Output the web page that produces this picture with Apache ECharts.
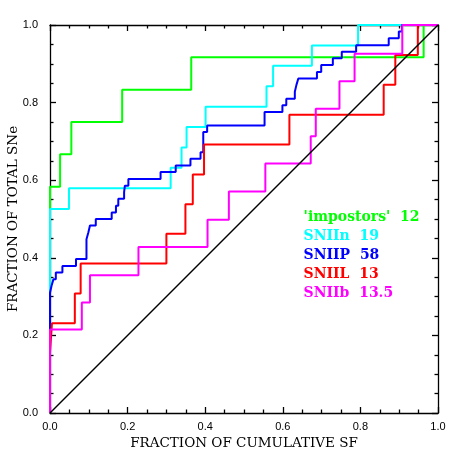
<!DOCTYPE html>
<html>
<head>
<meta charset="utf-8">
<script src="https://cdn.jsdelivr.net/npm/echarts@6/dist/echarts.min.js"></script>
<style>
  html, body { margin: 0; padding: 0; background: #fff; }
  #main { width: 463px; height: 463px; }
</style>
</head>
<body>
<div id="main"></div>
<script>
// x = fraction of cumulative SF where the step happens, y = level after the step
const impostorsX = [0, 0, 0.026, 0.055, 0.186, 0.364, 0.963, 1];
const impostorsY = [0, 0.583, 0.667, 0.750, 0.833, 0.917, 1, 1];

const sn2nX = [0, 0, 0.049, 0.311, 0.339, 0.352, 0.401, 0.558, 0.575, 0.675, 0.794, 1];
const sn2nY = [0, 0.526, 0.579, 0.632, 0.684, 0.737, 0.789, 0.842, 0.895, 0.947, 1, 1];

const sn2pX = [0, 0, 0.004, 0.009, 0.015, 0.032, 0.067, 0.094, 0.099, 0.103, 0.118, 0.159, 0.170,
  0.176, 0.191, 0.193, 0.202, 0.285, 0.324, 0.362, 0.388, 0.395, 0.405, 0.553, 0.599, 0.609,
  0.631, 0.635, 0.640, 0.688, 0.699, 0.729, 0.752, 0.789, 0.873, 0.899, 0.907, 1];
const sn2pY = [0, 0.310, 0.328, 0.345, 0.362, 0.379, 0.397, 0.448, 0.466, 0.483, 0.500, 0.517, 0.534,
  0.552, 0.569, 0.586, 0.603, 0.621, 0.638, 0.655, 0.672, 0.724, 0.741, 0.776, 0.793, 0.810,
  0.828, 0.845, 0.862, 0.879, 0.897, 0.914, 0.931, 0.948, 0.966, 0.983, 1, 1];

const sn2lX = [0, 0, 0.005, 0.064, 0.079, 0.300, 0.349, 0.368, 0.397, 0.617, 0.860, 0.890, 0.948, 1];
const sn2lY = [0, 0.154, 0.231, 0.308, 0.385, 0.462, 0.538, 0.615, 0.692, 0.769, 0.846, 0.923, 1, 1];

const sn2bX = [0, 0, 0.082, 0.103, 0.228, 0.406, 0.461, 0.555, 0.672, 0.685, 0.746, 0.785, 0.908, 1];
const sn2bY = [0, 0.215, 0.285, 0.355, 0.428, 0.498, 0.571, 0.643, 0.713, 0.784, 0.855, 0.926, 1, 1];

const diagX = [0, 1];
const diagY = [0, 1];

const names = ["'impostors'  12", 'SNIIn  19', 'SNIIP  58', 'SNIIL  13', 'SNIIb  13.5'];
const colors = ['#00ff00', '#00ffff', '#0000ff', '#ff0000', '#ff00ff'];
const tickVals = ['0.0', '0.2', '0.4', '0.6', '0.8', '1.0'];

const pairs = (xs, ys) => xs.map((x, i) => [x, ys[i]]);
const stepSets = [
  pairs(impostorsX, impostorsY),
  pairs(sn2nX, sn2nY),
  pairs(sn2pX, sn2pY),
  pairs(sn2lX, sn2lY),
  pairs(sn2bX, sn2bY)
];

function frameAxis(pos, labels) {
  return {
    type: 'value',
    position: pos,
    min: 0,
    max: 1,
    interval: 0.2,
    axisLine: { show: true, onZero: false, lineStyle: { color: '#000', width: 1.3 } },
    axisTick: { show: true, inside: true, length: 6, lineStyle: { color: '#000', width: 1.3 } },
    minorTick: { show: true, splitNumber: 4, length: 3.5, lineStyle: { color: '#000', width: 1.3 } },
    splitLine: { show: false },
    axisLabel: labels ? {
      show: true,
      color: '#000',
      fontFamily: 'Liberation Sans',
      fontSize: 11,
      formatter: v => tickVals[Math.round(v * 5)]
    } : { show: false }
  };
}

const xBottom = frameAxis('bottom', true);
xBottom.axisLabel.margin = 8;
xBottom.name = 'FRACTION OF CUMULATIVE SF';
xBottom.nameLocation = 'middle';
xBottom.nameGap = 22;
xBottom.nameTextStyle = { color: '#000', fontFamily: 'DejaVu Serif', fontSize: 13.5, verticalAlign: 'top' };

const yLeft = frameAxis('left', true);
yLeft.axisLabel.margin = 12;
yLeft.axisLabel.padding = [4, 0, 0, 0];
yLeft.name = 'FRACTION OF TOTAL SNe';
yLeft.nameLocation = 'middle';
yLeft.nameGap = 30;
yLeft.nameMoveOverlap = false;
yLeft.nameTextStyle = { color: '#000', fontFamily: 'DejaVu Serif', fontSize: 13.5 };

const series = stepSets.map((d, i) => ({
  name: names[i],
  type: 'line',
  step: 'end',
  data: d,
  showSymbol: false,
  lineStyle: { color: colors[i], width: 2 },
  itemStyle: { color: colors[i] },
  z: 2 + i
}));
series.push({
  name: 'diag',
  type: 'line',
  data: pairs(diagX, diagY),
  showSymbol: false,
  lineStyle: { color: '#000', width: 1.5 },
  z: 10
});

const option = {
  animation: false,
  backgroundColor: '#fff',
  grid: { left: 50, top: 25, width: 388, height: 388, containLabel: false, outerBoundsMode: 'none' },
  legend: {
    orient: 'vertical',
    left: 287,
    top: 205,
    itemWidth: 0,
    itemHeight: 14,
    itemGap: 5,
    selectedMode: false,
    itemStyle: { opacity: 0 },
    lineStyle: { opacity: 0 },
    data: names.map((n, i) => ({
      name: n,
      textStyle: { color: colors[i], fontFamily: 'DejaVu Serif', fontWeight: 'bold', fontSize: 14 }
    }))
  },
  xAxis: [xBottom, frameAxis('top', false)],
  yAxis: [yLeft, frameAxis('right', false)],
  series: series
};

let myChart = echarts.init(document.getElementById('main'));
myChart.setOption(option);
window.addEventListener('resize', function () {
  myChart.resize()
})
</script>
</body>
</html>
